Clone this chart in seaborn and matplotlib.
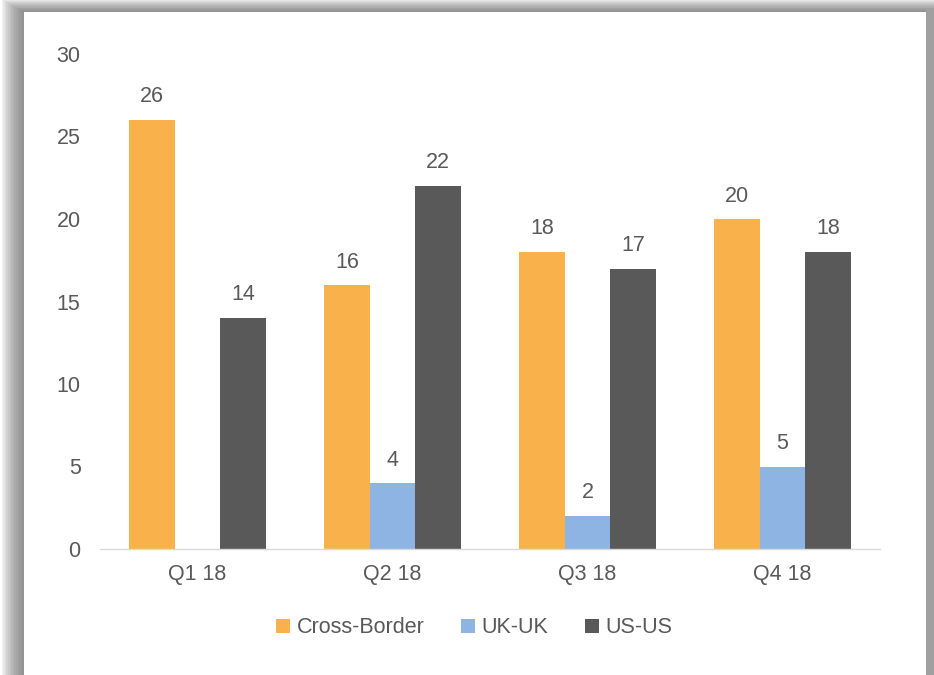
import matplotlib
matplotlib.use("Agg")
import matplotlib.pyplot as plt
from matplotlib.patches import Rectangle, Patch
import seaborn as sns
import pandas as pd
import numpy as np

categories = ["Q1 18", "Q2 18", "Q3 18", "Q4 18"]
series = ["Cross-Border", "UK-UK", "US-US"]
cross_border = [26, 16, 18, 20]
uk_uk = [np.nan, 4, 2, 5]
us_us = [14, 22, 17, 18]
colors = ["#F9B24B", "#8EB4E3", "#595959"]

rows = []
for name, vals in zip(series, [cross_border, uk_uk, us_us]):
    for c, v in zip(categories, vals):
        rows.append({"Quarter": c, "Series": name, "Value": v})
df = pd.DataFrame(rows)

sns.set_theme(style="white")
plt.rcParams["font.family"] = ["Liberation Sans", "DejaVu Sans"]

W, H = 934, 675
fig = plt.figure(figsize=(W / 100, H / 100), dpi=100)
fig.patch.set_facecolor("white")

# shadowed panel
px0, py0, px1, py1 = 24, 12, 926, 700
for i in range(14, 0, -1):
    fig.patches.append(Rectangle(((px0 - i * 1.6) / W, (H - py1) / H),
                                 (px1 - px0 + i * 1.6 + 8) / W,
                                 (py1 - py0 + i * 0.9) / H,
                                 transform=fig.transFigure, facecolor="#707070",
                                 edgecolor="none", alpha=0.09, zorder=0))
fig.patches.append(Rectangle((px1 / W, 0), 8 / W, (H - py0 + 3) / H,
                             transform=fig.transFigure, facecolor="#A0A0A0",
                             edgecolor="none", zorder=0.5))
fig.patches.append(Rectangle((px0 / W, 0), (px1 - px0) / W, (H - py0) / H,
                             transform=fig.transFigure, facecolor="white",
                             edgecolor="none", zorder=1))

ax = fig.add_axes([100 / W, 126 / H, 780 / W, 495 / H])
ax.set_facecolor("none")
ax.set_zorder(2)

sns.barplot(data=df, x="Quarter", y="Value", hue="Series", order=categories,
            hue_order=series, palette=colors, width=0.7, gap=0, ax=ax,
            saturation=1, legend=False, errorbar=None, linewidth=0)

ax.set_ylim(0, 30)
ax.set_yticks([0, 5, 10, 15, 20, 25, 30])
ax.set_xlabel("")
ax.set_ylabel("")
for s in ["top", "right", "left"]:
    ax.spines[s].set_visible(False)
ax.spines["bottom"].set_color("#D9D9D9")
ax.spines["bottom"].set_linewidth(1)
ax.tick_params(axis="both", length=0, labelsize=15.5, colors="#595959")
ax.tick_params(axis="y", pad=14)
ax.tick_params(axis="x", pad=11)

for cont in ax.containers:
    labels = ["" if (v is None or np.isnan(v)) else f"{v:.0f}" for v in cont.datavalues]
    ax.bar_label(cont, labels=labels, padding=9, fontsize=15.5, color="#595959")

handles = [Patch(facecolor=c, edgecolor="none") for c in colors]
fig.legend(handles, series, loc="center", bbox_to_anchor=(0.508, 0.07), ncol=3,
           frameon=False, fontsize=15.5, labelcolor="#595959", handlelength=0.65,
           handleheight=0.65, handletextpad=0.3, columnspacing=1.7)

fig.savefig("out.png", dpi=100, facecolor="white")
